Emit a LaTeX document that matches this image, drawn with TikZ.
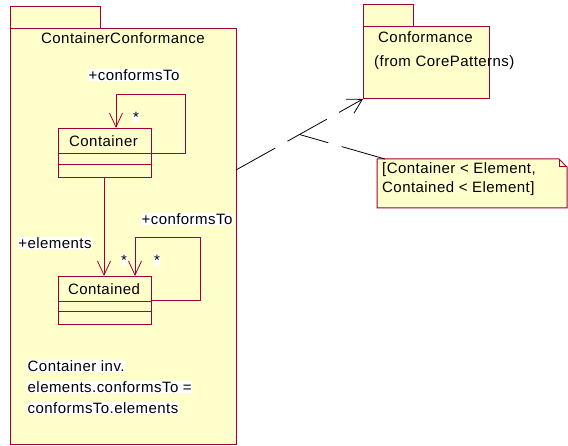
\documentclass[tikz,border=0pt]{standalone}
\usepackage{fontspec}
\setmainfont[LetterSpace=3]{Liberation Sans}
\usetikzlibrary{arrows.meta,calc}
\definecolor{umlfill}{HTML}{FFFFCC}
\definecolor{umlline}{HTML}{A0003A}
\tikzset{
  box/.style={draw=umlline, fill=umlfill, line width=1pt, inner sep=0pt, anchor=north west},
  lbl/.style={fill=white, inner sep=0.5pt},
  txt/.style={inner sep=0pt},
  assoc/.style={draw=umlline, line width=0.8pt},
  opentip/.style={-{Straight Barb[length=14pt,width=13pt,line width=0.8pt]}},
  dep/.style={draw=black, line width=0.8pt, dash pattern=on 45pt off 14pt},
}
\begin{document}
\begin{tikzpicture}[x=1pt,y=-1pt,font=\fontsize{15}{18}\selectfont]
\useasboundingbox (0,0) rectangle (568,446);
% big package
\node[box, minimum width=90pt, minimum height=22pt] (tabA) at (10,6) {};
\node[box, minimum width=226pt, minimum height=416pt] (pkgA) at (10,28) {};
\node[txt] (titleA) at (123,38) {ContainerConformance};
% Container class
\node[box, minimum width=93pt, minimum height=49pt] (cont) at (58,128) {};
\node[txt] (contname) at (103.5,141) {Container};
\draw[umlline, line width=1pt] (58,154) -- (151,154) (58,165) -- (151,165);
% Contained class
\node[box, minimum width=93pt, minimum height=48pt] (cted) at (58,276) {};
\node[txt] (ctedname) at (104,289) {Contained};
\draw[umlline, line width=1pt] (58,302) -- (151,302) (58,312) -- (151,312);
% self loop Container
\coordinate (l1a) at (151,153);
\coordinate (l1b) at (116,128);
\draw[assoc, opentip] (l1a) -- (185,153) -- (185,94) -- (116,94) -- (l1b);
\node[lbl] (cto1) at (134,75) {+conformsTo};
\node[lbl] (st1) at (136,117) {*};
% association Container -> Contained
\coordinate (a1) at (104,177);
\coordinate (a2) at (104,276);
\draw[assoc, opentip] (a1) -- (a2);
\node[lbl] (elem) at (55,243) {+elements};
% self loop Contained
\coordinate (l2a) at (151,300);
\coordinate (l2b) at (135,276);
\draw[assoc, opentip] (l2a) -- (200,300) -- (200,237) -- (135,237) -- (l2b);
\node[lbl] (cto2) at (187,219) {+conformsTo};
\node[lbl] (st2) at (124,260) {*};
\node[lbl] (st3) at (157,260) {*};
% constraint
\node[lbl, anchor=west] (c1) at (27,366) {Container inv.};
\node[lbl, anchor=west] (c2) at (27,387) {elements.conformsTo =};
\node[lbl, anchor=west] (c3) at (27,408) {conformsTo.elements};
% Conformance package
\node[box, minimum width=50pt, minimum height=22pt] (tabB) at (363,4) {};
\node[box, minimum width=126pt, minimum height=72pt] (conf) at (363,26) {};
\node[txt, anchor=west] (confname) at (378,37) {Conformance};
\node[txt, anchor=west] (conffrom) at (374,63) {(from CorePatterns)};
% note
\draw[umlline, fill=umlfill, line width=1pt] (377,159) -- (559,159) -- (567,167) -- (567,208) -- (377,208) -- cycle;
\draw[umlline, line width=1pt] (559,159) -- (559,167) -- (567,167);
\node[txt, anchor=west] (n1) at (382,170) {[Container < Element,};
\node[txt, anchor=west] (n2) at (382,189) {Contained < Element]};
\coordinate (note) at (385,159);
% dependency
\coordinate (dstart) at (236,170);
\draw[dep, -{Straight Barb[length=14pt,width=16pt,line width=0.8pt]}] (dstart) -- (conf.south west);
\coordinate (mid) at ($(dstart)!0.5!(conf.south west)$);
\draw[dep] (note) -- (mid);
\end{tikzpicture}
\end{document}
